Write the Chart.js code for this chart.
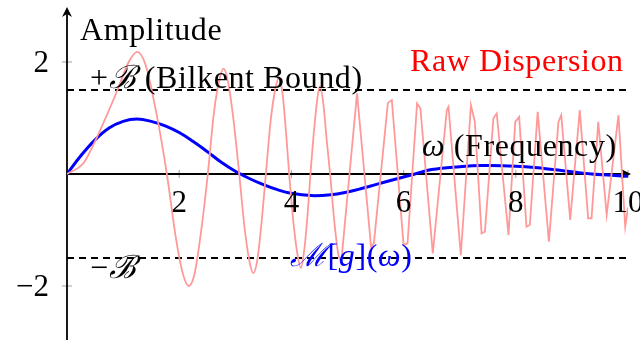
<!DOCTYPE html>
<html>
<head>
<meta charset="utf-8">
<script src="https://cdn.jsdelivr.net/npm/chart.js@4.4.1/dist/chart.umd.min.js"></script>
<style>
  body { margin: 0; background: #fff; }
  canvas { display: block; }
</style>
</head>
<body>
<canvas id="chart" width="640" height="340"></canvas>
<script>
// values
const rawX = [0, 0.3, 0.45, 0.6, 0.9, 1.1, 1.25, 1.4, 1.6, 1.78, 1.95, 2.07, 2.17, 2.27, 2.4, 2.51, 2.62, 2.72, 2.79, 2.87, 2.97,
    3.07, 3.17, 3.26, 3.32, 3.39, 3.46, 3.545, 3.63, 3.71, 3.77, 3.84, 3.9, 3.96, 4.04, 4.11, 4.17, 4.23, 4.29, 4.34,
    4.41, 4.47, 4.51, 4.57, 4.63, 4.69, 4.77, 4.84, 4.89,
    5.17, 5.42, 5.47, 5.72, 5.79, 6.0, 6.07, 6.24, 6.3, 6.52, 6.77, 6.8, 7.02, 7.2, 7.27, 7.39, 7.45, 7.6, 7.66,
    7.87, 7.99, 8.06, 8.19, 8.25, 8.39, 8.59, 8.76, 8.81, 8.97, 9.14, 9.29, 9.35, 9.47, 9.62, 9.83, 9.95, 10];
const rawY = [0, 0.2, 0.48, 0.8, 1.5, 2.0, 2.18, 1.95, 1.05, 0, -1.2, -1.8, -2.0, -1.8, -0.95, 0, 1.1, 1.7, 1.88, 1.65, 0.95,
    0, -1.0, -1.6, -1.77, -1.55, -0.95, 0, 0.95, 1.5, 1.71, 1.45, 0.8, 0, -0.9, -1.45, -1.68, -1.35, -0.7, 0,
    0.85, 1.4, 1.57, 1.25, 0.6, 0, -0.9, -1.45, -1.56,
    1.44, -1.3, -1.24, 1.27, 1.32, -1.27, -1.24, 1.26, 1.17, -1.42, 1.14, 1.2, -1.45, 1.23, 0.93, -1.06, -1.03, 0.99, 1.08,
    -1.09, 0.93, 1.02, -0.94, -0.91, 1.11, -1.21, 0.93, 1.05, -0.82, 1.14, -0.79, -0.79, 0.93, -0.73, 1.05, -0.94, -0.6];
const rawSmoothEnd = 49; // samples up to x=4.89 look smooth, after that the polyline is jagged

const bandX = [0, 0.25, 0.5, 0.75, 1.0, 1.25, 1.5, 1.75, 2.0, 2.25, 2.5, 2.75, 3.0, 3.25, 3.5, 3.75, 4.0, 4.35, 4.7,
    5.0, 5.25, 5.5, 5.9, 6.2, 6.5, 7.0, 7.4, 8.0, 8.5, 8.75, 9.0, 9.35, 10];
const bandY = [0, 0.33, 0.61, 0.82, 0.94, 0.98, 0.94, 0.86, 0.74, 0.58, 0.4, 0.21, 0.05, -0.08, -0.19, -0.28, -0.345,
    -0.385, -0.37, -0.32, -0.26, -0.19, -0.08, 0, 0.08, 0.13, 0.15, 0.14, 0.1, 0.07, 0.04, 0, -0.04];

const bound = 1.5;
const xTicks = [2, 4, 6, 8, 10];
const yTicks = [-2, 2];

const toPts = (xs, ys) => xs.map((x, i) => ({ x: x, y: ys[i] }));
const rawPts = toPts(rawX, rawY);

const serif = "'Liberation Serif', 'DejaVu Serif', serif";
const fontSize = 32;

function drawRuns(ctx, runs, x, y, color) {
    ctx.fillStyle = color;
    ctx.textBaseline = 'alphabetic';
    ctx.textAlign = 'left';
    ctx.letterSpacing = '0.6px';
    runs.forEach((r) => {
        ctx.font = (r.italic ? 'italic ' : '') + fontSize + 'px ' + serif;
        ctx.fillText(r.t, x, y);
        x += ctx.measureText(r.t).width;
    });
    ctx.letterSpacing = '0px';
}

function arrow(ctx, x, y, angle) {
    ctx.save();
    ctx.translate(x, y);
    ctx.rotate(angle);
    ctx.beginPath();
    ctx.moveTo(0, 0);
    ctx.lineTo(-10, -5);
    ctx.lineTo(-7, 0);
    ctx.lineTo(-10, 5);
    ctx.closePath();
    ctx.fillStyle = '#000';
    ctx.fill();
    ctx.restore();
}

const decor = {
    id: 'decor',
    beforeDatasetsDraw(chart) {
        const ctx = chart.ctx;
        const xs = chart.scales.x, ys = chart.scales.y;
        const x0 = xs.getPixelForValue(0), y0 = ys.getPixelForValue(0);
        const xEnd = xs.getPixelForValue(10) + 3;
        const yTop = ys.getPixelForValue(2.98);

        ctx.save();
        // ticks
        ctx.strokeStyle = '#888';
        ctx.lineWidth = 0.8;
        xTicks.forEach((t) => {
            const px = xs.getPixelForValue(t);
            ctx.beginPath();
            ctx.moveTo(px, y0 - 4);
            ctx.lineTo(px, y0 + 4);
            ctx.stroke();
        });
        yTicks.forEach((t) => {
            const py = ys.getPixelForValue(t);
            ctx.beginPath();
            ctx.moveTo(x0 - 5, py);
            ctx.lineTo(x0 + 5, py);
            ctx.stroke();
        });

        // axis lines
        ctx.strokeStyle = '#000';
        ctx.lineWidth = 1.8;
        ctx.beginPath();
        ctx.moveTo(x0, y0);
        ctx.lineTo(xEnd - 4, y0);
        ctx.stroke();
        ctx.beginPath();
        ctx.moveTo(x0, chart.height);
        ctx.lineTo(x0, yTop + 4);
        ctx.stroke();
        arrow(ctx, xEnd, y0, 0);
        arrow(ctx, x0, yTop, -Math.PI / 2);
        ctx.restore();
    },
    afterDatasetsDraw(chart) {
        const ctx = chart.ctx;
        const xs = chart.scales.x, ys = chart.scales.y;
        const x0 = xs.getPixelForValue(0), y0 = ys.getPixelForValue(0);

        ctx.save();
        ctx.font = '31px ' + serif;
        ctx.fillStyle = '#000';
        ctx.textBaseline = 'alphabetic';

        // tick labels
        ctx.textAlign = 'center';
        xTicks.forEach((t) => {
            ctx.fillText(String(t), xs.getPixelForValue(t), y0 + 38);
        });
        ctx.textAlign = 'right';
        yTicks.forEach((t) => {
            ctx.fillText(String(t).replace('-', '\u2212'), x0 - 18, ys.getPixelForValue(t) + 10);
        });

        // labels
        drawRuns(ctx, [{ t: 'Amplitude' }], x0 + 13, 40, '#000');
        drawRuns(ctx, [{ t: 'Raw Dispersion' }], 410, 71, '#ff0000');
        drawRuns(ctx, [{ t: '\u03c9', italic: true }, { t: ' (Frequency)' }], 422, 156, '#000');
        drawRuns(ctx, [{ t: '+' }, { t: '\u212c', italic: true }, { t: ' (Bilkent Bound)' }],
            90, ys.getPixelForValue(bound) - 2, '#000');
        drawRuns(ctx, [{ t: '\u2212' }, { t: '\u212c', italic: true }],
            90, ys.getPixelForValue(-bound) + 20, '#000');
        drawRuns(ctx, [{ t: '\u2133', italic: true }, { t: '[' }, { t: 'g', italic: true }, { t: '](' },
            { t: '\u03c9', italic: true }, { t: ')' }], 290, 266, '#0000ff');
        ctx.restore();
    }
};

new Chart(document.getElementById('chart'), {
    type: 'line',
    data: {
        datasets: [
            {
                data: rawPts.slice(0, rawSmoothEnd),
                borderColor: '#ff9999',
                borderWidth: 1.8,
                cubicInterpolationMode: 'monotone',
                pointRadius: 0
            },
            {
                data: rawPts.slice(rawSmoothEnd - 1),
                borderColor: '#ff9999',
                borderWidth: 1.8,
                tension: 0,
                pointRadius: 0
            },
            {
                data: [{ x: 0, y: bound }, { x: 10, y: bound }],
                borderColor: '#000',
                borderWidth: 1.8,
                borderDash: [7, 5],
                pointRadius: 0
            },
            {
                data: [{ x: 0, y: -bound }, { x: 10, y: -bound }],
                borderColor: '#000',
                borderWidth: 1.8,
                borderDash: [7, 5],
                pointRadius: 0
            },
            {
                data: toPts(bandX, bandY),
                borderColor: '#0000ff',
                borderWidth: 3,
                tension: 0.4,
                pointRadius: 0
            }
        ]
    },
    options: {
        responsive: false,
        animation: false,
        layout: { padding: { left: 67, right: 12, top: 0, bottom: 0 } },
        plugins: { legend: { display: false }, tooltip: { enabled: false } },
        scales: {
            x: { type: 'linear', min: 0, max: 10, display: false },
            y: { type: 'linear', min: -2.964, max: 3.107, display: false }
        }
    },
    plugins: [decor]
});
</script>
</body>
</html>
